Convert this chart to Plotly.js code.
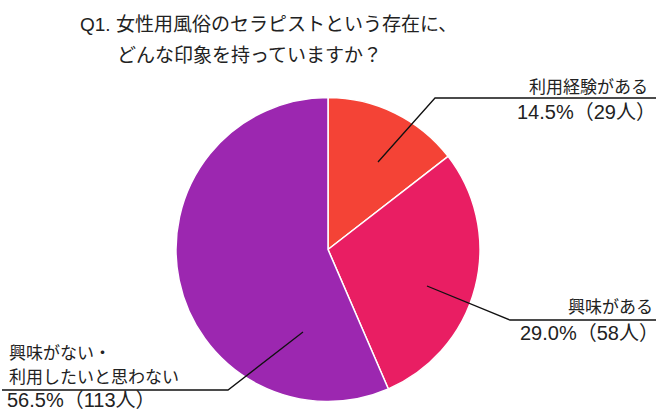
<!DOCTYPE html>
<html>
<head>
<meta charset="utf-8">
<script src="https://cdn.plot.ly/plotly-3.0.1.min.js"></script>
<style>
  html, body { margin: 0; padding: 0; background: #fff; }
  #chart { width: 661px; height: 414px; }
</style>
</head>
<body>
<div id="chart"></div>
<script>
// survey answers
let labels = ["利用経験がある", "興味がある", "興味がない・利用したいと思わない"];
let counts = [29, 58, 113];
let percents = ["14.5%", "29.0%", "56.5%"];
let colors = ["#F44336", "#E91E63", "#9C27B0"];

const W = 661, H = 414;
// pixel -> paper helpers
function px(x) { return x / W; }
function py(y) { return 1 - y / H; }

const font = "'Liberation Sans', 'Noto Sans CJK JP', sans-serif";

let trace1 = {
    type: 'pie',
    labels: labels,
    values: counts,
    sort: false,
    direction: 'clockwise',
    rotation: 0,
    textinfo: 'none',
    hoverinfo: 'label+value+percent',
    marker: { colors: colors, line: { color: '#ffffff', width: 1.5 } },
    domain: { x: [px(176), px(480)], y: [py(402), py(97)] }
};

function note(x, y, text, anchor, size) {
    return {
        xref: 'paper', yref: 'paper',
        x: px(x), y: py(y),
        xanchor: anchor, yanchor: 'middle',
        text: text, showarrow: false,
        font: { family: font, size: size || 17, color: '#222' }
    };
}

function pctText(i) {
    return percents[i] + "（" + counts[i] + "人）";
}

function leader(pts) {
    let d = pts.map((p, i) => (i ? 'L' : 'M') + px(p[0]) + ',' + py(p[1])).join(' ');
    return { type: 'path', xref: 'paper', yref: 'paper', path: d,
             line: { color: '#111', width: 1.3 } };
}

let layout = {
    width: W, height: H,
    margin: { l: 0, r: 0, t: 0, b: 0 },
    paper_bgcolor: '#fff',
    showlegend: false,
    annotations: [
        note(78, 24, "Q1. 女性用風俗のセラピストという存在に、", 'left', 19),
        note(115, 55, "どんな印象を持っていますか？", 'left', 19),
        note(650, 87, labels[0], 'right'),
        note(658, 112, pctText(0), 'right', 20),
        note(655, 307, labels[1], 'right'),
        note(661, 333, pctText(1), 'right', 20),
        note(7, 353, "興味がない・", 'left'),
        note(7, 377, "利用したいと思わない", 'left'),
        note(5, 400, pctText(2), 'left', 20)
    ],
    shapes: [
        leader([[378, 162], [435, 98], [656, 98]]),
        leader([[427, 286], [510, 320], [656, 320]]),
        leader([[303, 332], [228, 390], [2, 390]])
    ]
};

Plotly.newPlot('chart', [trace1], layout, { displayModeBar: false, staticPlot: true });
</script>
</body>
</html>
